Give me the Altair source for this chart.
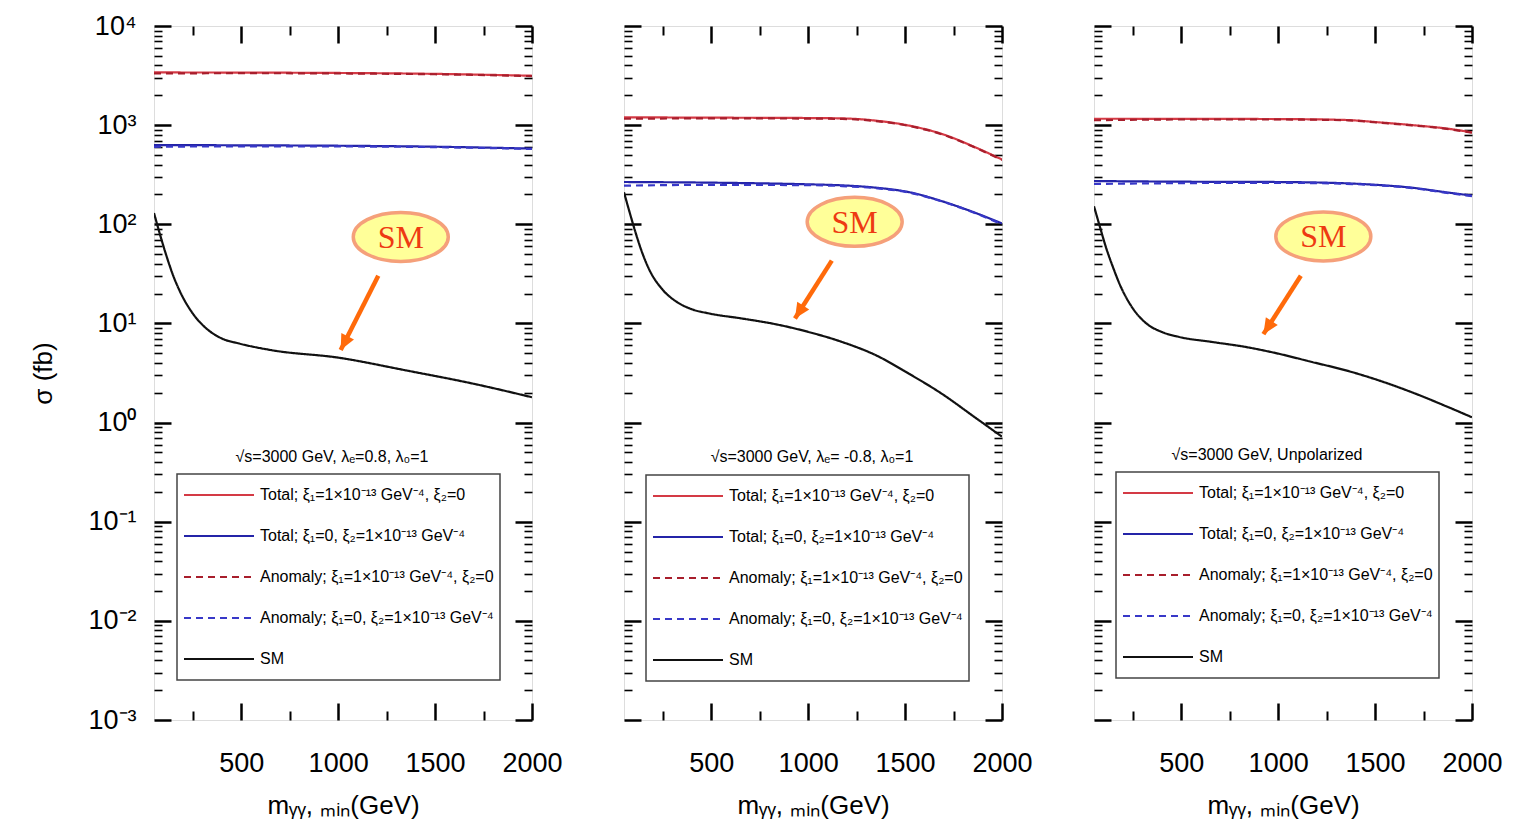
import altair as alt
import pandas as pd

# ---------------- data ----------------
SERIES = [
    "Total; ξ₁=1×10⁻¹³ GeV⁻⁴, ξ₂=0",
    "Total; ξ₁=0, ξ₂=1×10⁻¹³ GeV⁻⁴",
    "Anomaly; ξ₁=1×10⁻¹³ GeV⁻⁴, ξ₂=0",
    "Anomaly; ξ₁=0, ξ₂=1×10⁻¹³ GeV⁻⁴",
    "SM",
]
SERIES_COLORS = ["#D43A45", "#2424A8", "#A81E2C", "#3838C8", "#111111"]
SERIES_DASHES = [[1, 0], [1, 0], [7, 5], [7, 5], [1, 0]]

CAPTIONS = [
    "√s=3000 GeV,  λₑ=0.8,  λ₀=1",
    "√s=3000 GeV,  λₑ= -0.8,  λ₀=1",
    "√s=3000 GeV, Unpolarized",
]

# Panel 1 (lambda_e = 0.8)
P1_X = [50, 500, 1000, 1500, 2000]
P1_TOTAL_XI1 = [3400, 3390, 3360, 3290, 3150]
P1_TOTAL_XI2 = [630, 626, 620, 606, 580]
P1_ANOM_XI1 = [3320, 3340, 3320, 3260, 3120]
P1_ANOM_XI2 = [605, 612, 610, 600, 575]
P1_SM_X = [50, 80, 110, 150, 180, 250, 320, 400, 490, 660, 1000, 1350, 1700, 2000]
P1_SM = [130, 80, 51, 30, 21.8, 12.6, 8.9, 7.05, 6.27, 5.36, 4.52, 3.36, 2.46, 1.80]

# Panel 2 (lambda_e = -0.8)
P2_X = [50, 500, 1000, 1175, 1350, 1520, 1690, 1860, 2000]
P2_TOTAL_XI1 = [1200, 1190, 1180, 1170, 1110, 990, 815, 600, 450]
P2_TOTAL_XI2 = [267, 263, 253, 247, 234, 211, 171, 131, 102]
P2_ANOM_XI1 = [1160, 1170, 1165, 1155, 1100, 982, 808, 595, 445]
P2_ANOM_XI2 = [245, 250, 248, 243, 231, 209, 170, 130, 100]
P2_SM_X = [50, 80, 110, 150, 180, 250, 320, 400, 490, 660, 830, 1000, 1175, 1350, 1520, 1690, 1860, 2000]
P2_SM = [210, 130, 82, 48, 35, 21.8, 16.6, 13.9, 12.6, 11.2, 9.84, 8.22, 6.5, 4.77, 3.11, 1.95, 1.13, 0.72]

# Panel 3 (unpolarized)
P3_X = [50, 500, 1000, 1350, 1520, 1690, 1860, 2000]
P3_TOTAL_XI1 = [1160, 1158, 1152, 1127, 1067, 1002, 929, 846]
P3_TOTAL_XI2 = [273, 269, 267, 259, 249, 234, 211, 195]
P3_ANOM_XI1 = [1120, 1140, 1140, 1120, 1060, 995, 922, 840]
P3_ANOM_XI2 = [255, 260, 262, 256, 247, 232, 209, 192]
P3_SM_X = [50, 80, 110, 150, 180, 250, 320, 400, 490, 660, 830, 1000, 1175, 1350, 1520, 1690, 1860, 2000]
P3_SM = [152, 95, 60, 36, 25.5, 14.2, 10, 8.2, 7.3, 6.5, 5.8, 4.96, 4.08, 3.36, 2.66, 2.02, 1.48, 1.13]

# "SM" call-out bubbles and arrows (data coordinates)
SM_BUBBLE_X = [1323, 1240, 1233]
SM_BUBBLE_Y = [74.5, 106, 75.5]
ARROW_START_X = [1207, 1122, 1117]
ARROW_START_Y = [30.2, 43, 30.2]
ARROW_TIP_X = [1013, 932, 924]
ARROW_TIP_Y = [5.4, 11.2, 7.8]
ARROW_ANGLE = [27, 32.5, 33]

# axis ticks / labels
X_DOMAIN = [50, 2000]
Y_DOMAIN = [1e-3, 1e4]
X_MAJOR = [500, 1000, 1500, 2000]
X_ALL_TICKS = [250, 500, 750, 1000, 1250, 1500, 1750, 2000]
Y_MAJOR = [0.001, 0.01, 0.1, 1, 10, 100, 1000, 10000]
Y_MAJOR_LABELS = ["10⁻³", "10⁻²", "10⁻¹", "10⁰", "10¹", "10²", "10³", "10⁴"]
Y_MINOR_MULT = [2, 3, 4, 5, 6, 7, 8, 9]

# layout / style
W, H = 378, 694
FONT = "Liberation Sans"
LEGEND_X = [23, 22, 22]
LEGEND_Y = [448, 449, 446]
CAPTION_X = [178, 188, 173]
CAPTION_Y = [431, 431, 429]

# ---------------- helpers ----------------
Y_ALL_TICKS = sorted(Y_MAJOR + [m * d for d in Y_MAJOR[:-1] for m in Y_MINOR_MULT])

label_expr = ""
for v, lab in zip(Y_MAJOR[:-1], Y_MAJOR_LABELS[:-1]):
    label_expr += f"datum.value < {v * 3} ? '{lab}' : "
label_expr += f"'{Y_MAJOR_LABELS[-1]}'"

Y_MAJOR_TEST = "abs(log(datum.value)/LN10 - round(log(datum.value)/LN10)) < 0.01"
X_MAJOR_TEST = "datum.value % 500 === 0"

xs = alt.Scale(domain=X_DOMAIN, nice=False, zero=False)
ys = alt.Scale(type="log", domain=Y_DOMAIN, nice=False)


def y_tick_axis(orient):
    return alt.Axis(
        orient=orient, offset=-W, values=Y_ALL_TICKS, labels=False, domain=False,
        grid=False, title=None, tickColor="black",
        tickSize={"condition": {"test": Y_MAJOR_TEST, "value": 17}, "value": 8},
        tickWidth={"condition": {"test": Y_MAJOR_TEST, "value": 2.5}, "value": 1.6},
    )


def x_tick_axis(orient):
    return alt.Axis(
        orient=orient, offset=-H, values=X_ALL_TICKS, labels=False, domain=False,
        grid=False, title=None, tickColor="black",
        tickSize={"condition": {"test": X_MAJOR_TEST, "value": 17}, "value": 9},
        tickWidth={"condition": {"test": X_MAJOR_TEST, "value": 2.5}, "value": 2},
    )


def build_df(x, t1, t2, a1, a2, sm_x, sm):
    rows = []
    for name, xv, yv in [
        (SERIES[0], x, t1), (SERIES[1], x, t2),
        (SERIES[2], x, a1), (SERIES[3], x, a2),
        (SERIES[4], sm_x, sm),
    ]:
        for a, b in zip(xv, yv):
            rows.append({"m": a, "sigma": b, "series": name})
    return pd.DataFrame(rows)


PANELS = [
    build_df(P1_X, P1_TOTAL_XI1, P1_TOTAL_XI2, P1_ANOM_XI1, P1_ANOM_XI2, P1_SM_X, P1_SM),
    build_df(P2_X, P2_TOTAL_XI1, P2_TOTAL_XI2, P2_ANOM_XI1, P2_ANOM_XI2, P2_SM_X, P2_SM),
    build_df(P3_X, P3_TOTAL_XI1, P3_TOTAL_XI2, P3_ANOM_XI1, P3_ANOM_XI2, P3_SM_X, P3_SM),
]


def panel(i):
    df = PANELS[i]
    legend = alt.Legend(
        orient="none", legendX=LEGEND_X[i], legendY=LEGEND_Y[i], title=None,
        symbolType="stroke", symbolSize=4900, symbolStrokeWidth=2,
        clipHeight=30, rowPadding=11, labelFont=FONT, labelFontSize=16,
        labelLimit=400, labelOffset=5, padding=6, strokeColor="#444444",
        fillColor="white", labelColor="black",
    )
    if i == 0:
        y_axis = alt.Axis(
            orient="left", values=Y_MAJOR, labelExpr=label_expr, ticks=False,
            domain=False, grid=False, labelFont=FONT, labelFontSize=27,
            labelColor="black", labelPadding=18, title="σ (fb)", titleFont=FONT,
            titleFontSize=26, titleFontWeight="normal", titleColor="black",
            titlePadding=31,
        )
    else:
        y_axis = None
    x_axis = alt.Axis(
        orient="bottom", values=X_MAJOR, format="d", ticks=False, domain=False,
        grid=False, labelFont=FONT, labelFontSize=27, labelColor="black",
        labelPadding=30, labelFlush=False, labelOverlap=False,
        title="mᵧᵧ, ₘᵢₙ(GeV)", titleFont=FONT, titleFontSize=26,
        titleFontWeight="normal", titleColor="black", titlePadding=16,
    )

    lines = alt.Chart(df).mark_line(strokeWidth=2.2, interpolate="monotone", clip=True).encode(
        x=alt.X("m:Q", scale=xs, axis=x_axis),
        y=alt.Y("sigma:Q", scale=ys, axis=y_axis),
        color=alt.Color("series:N", scale=alt.Scale(domain=SERIES, range=SERIES_COLORS), legend=legend),
        strokeDash=alt.StrokeDash("series:N", scale=alt.Scale(domain=SERIES, range=SERIES_DASHES), legend=legend),
    )

    ticks_in_a = alt.Chart(df).mark_point(opacity=0).encode(
        x=alt.X("m:Q", scale=xs, axis=x_tick_axis("top")),
        y=alt.Y("sigma:Q", scale=ys, axis=y_tick_axis("right")),
    )
    ticks_in_b = alt.Chart(df).mark_point(opacity=0).encode(
        x=alt.X("m:Q", scale=xs, axis=x_tick_axis("bottom")),
        y=alt.Y("sigma:Q", scale=ys, axis=y_tick_axis("left")),
    )

    ann = pd.DataFrame({
        "bx": [SM_BUBBLE_X[i]], "by": [SM_BUBBLE_Y[i]],
        "ax0": [ARROW_START_X[i]], "ay0": [ARROW_START_Y[i]],
        "ax1": [ARROW_TIP_X[i]], "ay1": [ARROW_TIP_Y[i]],
        "label": ["SM"], "caption": [CAPTIONS[i]],
    })
    base = alt.Chart(ann)
    bubble = base.mark_point(
        shape="M-1,0A1,0.516 0 1,0 1,0A1,0.516 0 1,0 -1,0Z", filled=True,
        fill="#FFFF99", stroke="#F5A07A", strokeWidth=3.5, size=9025, opacity=1,
    ).encode(
        x=alt.X("bx:Q", scale=xs, axis=None), y=alt.Y("by:Q", scale=ys, axis=None)
    )
    sm_text = base.mark_text(
        font="Liberation Serif", fontSize=32, color="#EE3A12", baseline="middle", dy=1
    ).encode(
        x=alt.X("bx:Q", scale=xs, axis=None), y=alt.Y("by:Q", scale=ys, axis=None), text="label:N"
    )
    arrow = base.mark_rule(color="#FF6A0A", strokeWidth=4.5).encode(
        x=alt.X("ax0:Q", scale=xs, axis=None), y=alt.Y("ay0:Q", scale=ys, axis=None),
        x2="ax1:Q", y2="ay1:Q",
    )
    head = base.mark_point(
        shape="M0,0L-0.6,-1.3L0.6,-1.3Z", filled=True, fill="#FF6A0A", strokeWidth=0,
        size=560, opacity=1, angle=ARROW_ANGLE[i],
    ).encode(
        x=alt.X("ax1:Q", scale=xs, axis=None), y=alt.Y("ay1:Q", scale=ys, axis=None)
    )
    caption = base.mark_text(font=FONT, fontSize=16, color="black", align="center", baseline="middle").encode(
        x=alt.value(CAPTION_X[i]), y=alt.value(CAPTION_Y[i]), text="caption:N"
    )

    return alt.layer(lines, ticks_in_a, ticks_in_b, arrow, head, bubble, sm_text, caption).resolve_axis(
        x="independent", y="independent"
    ).properties(width=W, height=H)


chart = alt.hconcat(panel(0), panel(1), panel(2), spacing=92, bounds="flush").resolve_legend(
    color="independent", strokeDash="independent"
).properties(
    padding={"left": 30, "top": 11, "right": 5, "bottom": 5}
).configure_view(
    stroke="black", strokeWidth=2.5
).configure(font=FONT, background="white").configure_legend(strokeWidth=1.5)

chart.save("out.html", embed_options={"renderer": "svg", "actions": False})
